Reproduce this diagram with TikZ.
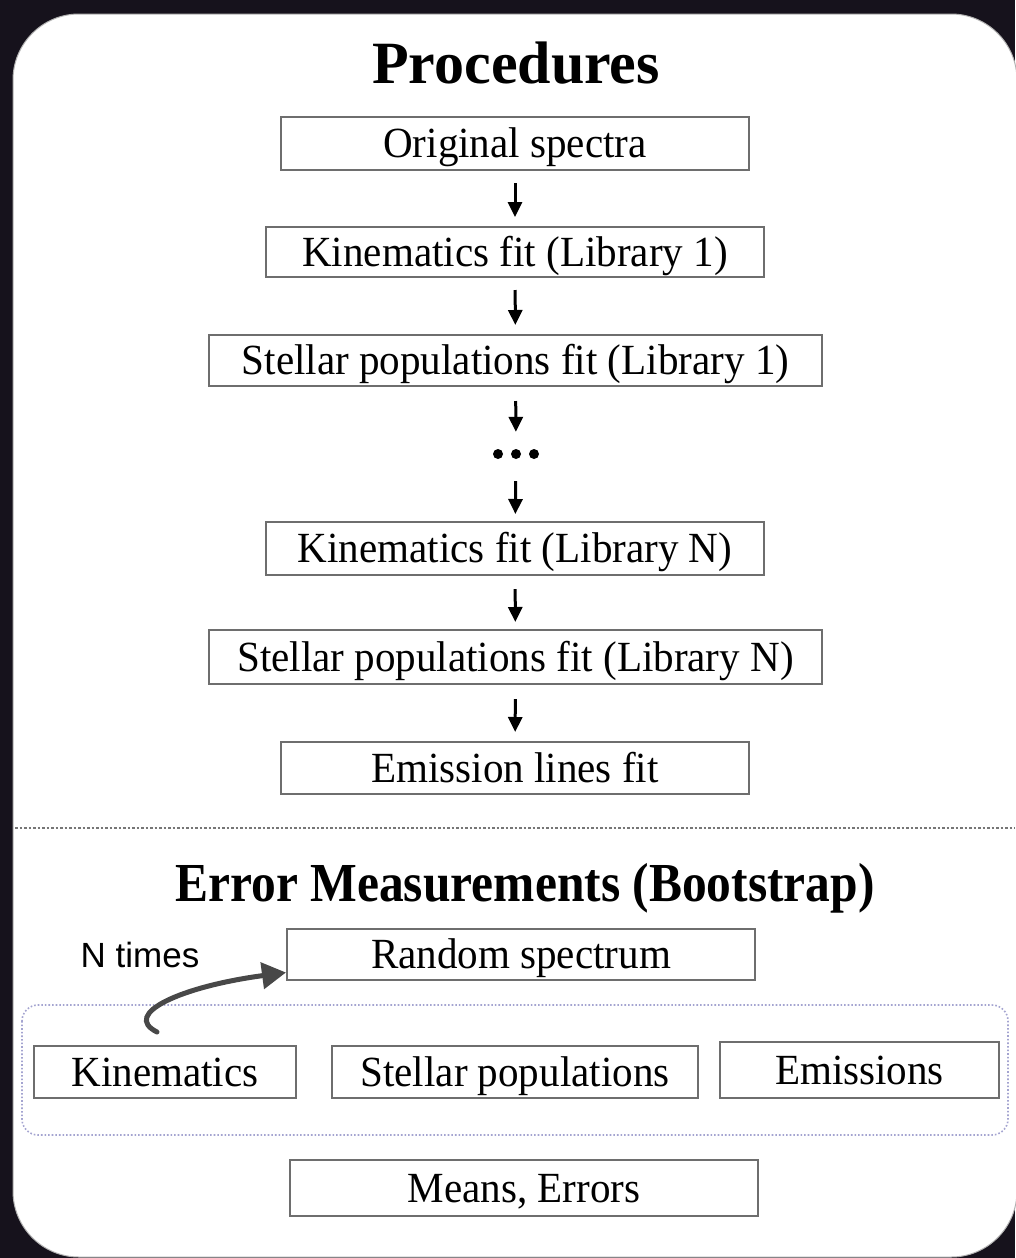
\documentclass[tikz,border=0pt]{standalone}
\usepackage{fontspec}
\setmainfont{Liberation Serif}
\newfontfamily\sansf{Liberation Sans}
\newfontfamily\condf{Liberation Serif}[FakeStretch=0.955]
\newfontfamily\condtitle{Liberation Serif}[FakeStretch=0.9]
\usetikzlibrary{arrows.meta}
\definecolor{bgdark}{HTML}{16121C}
\definecolor{boxgray}{HTML}{6E6E6E}
\definecolor{grpblue}{HTML}{A4A4D0}
\definecolor{curvegray}{HTML}{484848}
\definecolor{sepgray}{HTML}{767676}
\begin{document}
\begin{tikzpicture}[x=1pt,y=-1pt,
  stepbox/.style={draw=boxgray, line width=2pt, inner sep=0pt,
    font=\condf\fontsize{43}{48}\selectfont, text height=28.5pt, text depth=0pt},
  flowarr/.style={line width=3pt, -{Triangle[length=15pt,width=14pt]},
    shorten <=12pt, shorten >=9pt},
  titletext/.style={anchor=base, inner sep=0pt},
  curvearr/.style={draw=curvegray, line width=5pt, line cap=round,
    -{Triangle[length=24pt,width=26pt]}},
  grpframe/.style={draw=grpblue, line width=1.6pt, dotted, rounded corners=16pt},
  sepline/.style={draw=sepgray, line width=2.5pt, dotted}
]
\useasboundingbox (0,0) rectangle (1015,1258);
\fill[bgdark] (0,0) rectangle (1015,1258);
\draw[fill=white, draw=gray!60, line width=1pt, rounded corners=66pt] (13,14) rectangle (1017,1257);

% Procedures
\node[titletext, font=\fontsize{60}{66}\selectfont\bfseries] (t1) at (516,83) {Procedures};
\node[stepbox, minimum width=468pt, minimum height=53pt] (os) at (515,143.5) {Original spectra};
\node[stepbox, minimum width=498pt, minimum height=50pt] (k1) at (515,252) {Kinematics fit (Library 1)};
\node[stepbox, minimum width=613pt, minimum height=51pt] (s1) at (515.5,360.5) {Stellar populations fit (Library 1)};
\node[inner sep=0pt, minimum width=46pt, minimum height=12pt] (dots) at (516,454) {};
\node[stepbox, minimum width=498pt, minimum height=53pt] (kN) at (515,548.5) {Kinematics fit (Library N)};
\node[stepbox, minimum width=613pt, minimum height=54pt] (sN) at (515.5,657) {Stellar populations fit (Library N)};
\node[stepbox, minimum width=468pt, minimum height=52pt] (em) at (515,768) {Emission lines fit};

\fill (dots.center) circle (5pt);
\fill ([xshift=-18pt]dots.center) circle (5pt);
\fill ([xshift=18pt]dots.center) circle (5pt);

\draw[flowarr] (os) -- (k1);
\draw[flowarr] (k1) -- (s1);
\draw[flowarr, shorten >=16pt, shorten <=14pt] (s1) -- (dots);
\draw[flowarr, shorten <=21pt, shorten >=7pt] (dots) -- (kN);
\draw[flowarr, shorten <=13pt, shorten >=7pt] (kN) -- (sN);
\draw[flowarr, shorten <=14pt, shorten >=9pt] (sN) -- (em);

% separator
\draw[sepline] (15,828) -- (1015,828);

% Error Measurements
\node[titletext, font=\condtitle\fontsize{55}{60}\selectfont\bfseries] (t2) at (525,901) {Error Measurements (Bootstrap)};
\node[stepbox, minimum width=468pt, minimum height=51pt] (rand) at (521,954.5) {Random spectrum};
\node[inner sep=0pt, font=\sansf\fontsize{35}{40}\selectfont] (nt) at (140,955) {N times};

\draw[grpframe] (22,1005) rectangle (1008,1135);

\node[stepbox, minimum width=262pt, minimum height=52pt] (kin) at (165,1072) {Kinematics};
\node[stepbox, minimum width=366pt, minimum height=52pt] (stel) at (515,1072) {Stellar populations};
\node[stepbox, minimum width=279pt, minimum height=56pt] (emis) at (859.5,1070) {Emissions};
\node[stepbox, minimum width=468pt, minimum height=56pt] (means) at (524,1188) {Means, Errors};

\draw[curvearr] ([shift={(-8pt,13pt)}]kin.north) .. controls +(-36,-18) and +(-105,14) .. ([yshift=-18pt]rand.west);
\end{tikzpicture}
\end{document}
